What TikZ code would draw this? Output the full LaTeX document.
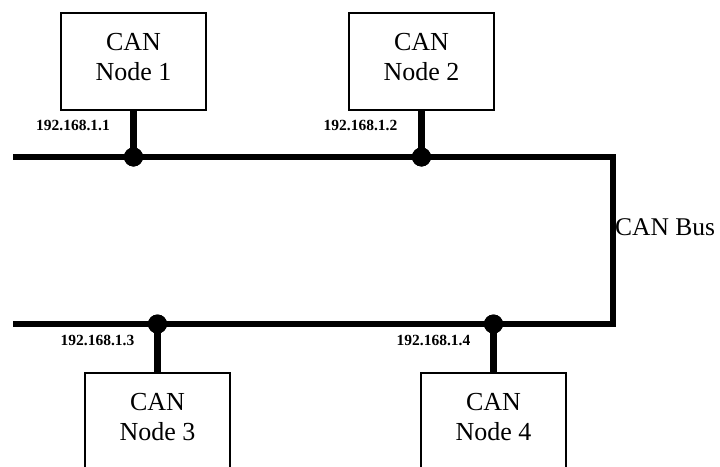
\documentclass[tikz,border=0pt]{standalone}
\usepackage{fontspec}
\setmainfont{Liberation Serif}
\begin{document}
\begin{tikzpicture}[x=1pt,y=-1pt,
  box/.style={draw,line width=2pt,minimum width=145pt,minimum height=97pt,inner sep=0pt},
  boxtext/.style={align=center,font=\fontsize{26}{30}\selectfont,inner sep=0pt},
  dot/.style={circle,fill=black,minimum size=19pt,inner sep=0pt},
  ip/.style={font=\fontsize{15.5}{18}\selectfont\bfseries,inner sep=0pt},
  bus/.style={line width=5.5pt,line join=miter},
  stub/.style={line width=7pt}]
\useasboundingbox (0,0) rectangle (720,466);
\clip (0,0) rectangle (720,466);
% boxes
\node[box] (n1) at (133.5,61.5) {};
\node[box] (n2) at (421.5,61.5) {};
\node[box] (n3) at (157.5,421.5) {};
\node[box] (n4) at (493.5,421.5) {};
\node[boxtext] (t1) at (133.5,57) {CAN\\Node 1};
\node[boxtext] (t2) at (421.5,57) {CAN\\Node 2};
\node[boxtext] (t3) at (157.5,417) {CAN\\Node 3};
\node[boxtext] (t4) at (493.5,417) {CAN\\Node 4};
% bus
\coordinate (l1) at (13,157);
\coordinate (r1) at (613,157);
\coordinate (r2) at (613,324);
\coordinate (l2) at (13,324);
\node[dot] (d1) at (133.5,157) {};
\node[dot] (d2) at (421.5,157) {};
\node[dot] (d3) at (157.5,324) {};
\node[dot] (d4) at (493.5,324) {};
\draw[bus] (l1) -- (d1.center) -- (d2.center) -- (r1) -- (r2) -- (d4.center) -- (d3.center) -- (l2);
\draw[stub] (n1.south) -- (d1.center);
\draw[stub] (n2.south) -- (d2.center);
\draw[stub] (n3.north) -- (d3.center);
\draw[stub] (n4.north) -- (d4.center);
\node[dot] at (d1) {};
\node[dot] at (d2) {};
\node[dot] at (d3) {};
\node[dot] at (d4) {};
% labels
\node[ip] (a1) at (73,125) {192.168.1.1};
\node[ip] (a2) at (360.5,125) {192.168.1.2};
\node[ip] (a3) at (97.5,340) {192.168.1.3};
\node[ip] (a4) at (433.5,340) {192.168.1.4};
\node[anchor=west,inner sep=0pt,font=\fontsize{25.5}{30}\selectfont] (bl) at (615,227) {CAN Bus};
\end{tikzpicture}
\end{document}
